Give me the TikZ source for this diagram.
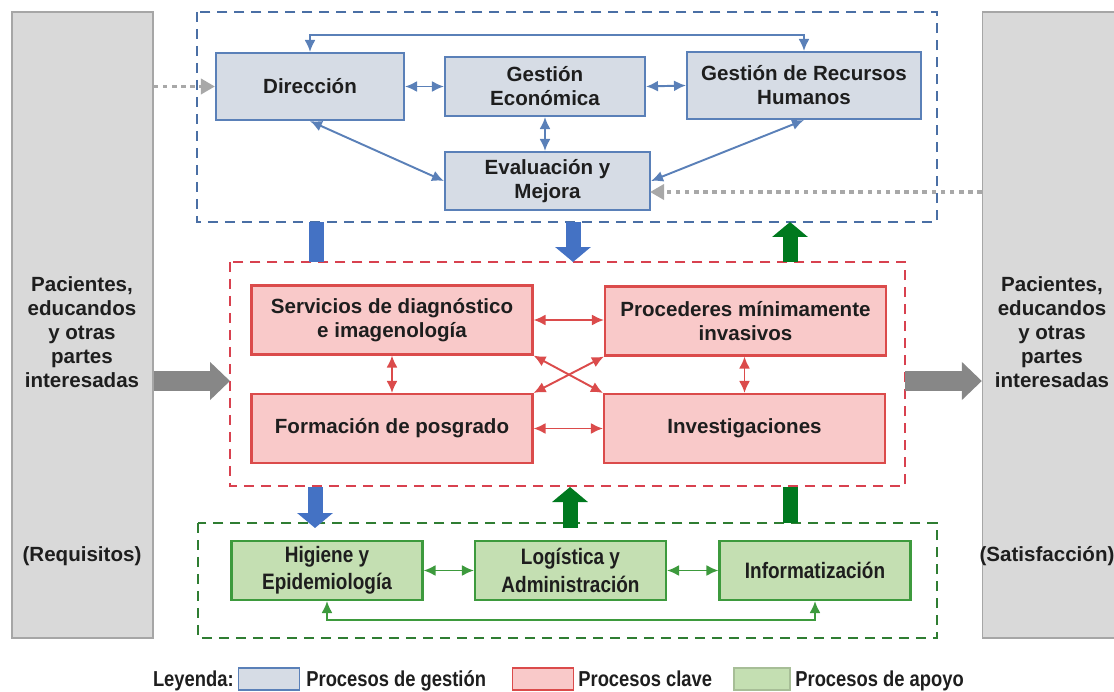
\documentclass[tikz,border=0pt]{standalone}
\usepackage{fontspec}
\setmainfont{Liberation Sans}
\newfontfamily\narrowfont{Liberation Sans}[FakeStretch=0.85]
\usetikzlibrary{arrows.meta}

\definecolor{gestfill}{HTML}{D6DCE5}
\definecolor{gestline}{HTML}{5A80B8}
\definecolor{gestdash}{HTML}{4A6FA5}
\definecolor{clavefill}{HTML}{F9C9C9}
\definecolor{claveline}{HTML}{DB4B4B}
\definecolor{clavedash}{HTML}{D8414F}
\definecolor{apoyofill}{HTML}{C4DFB2}
\definecolor{apoyoline}{HTML}{3D9A3D}
\definecolor{apoyodash}{HTML}{2F7D32}
\definecolor{verdeosc}{HTML}{00791F}
\definecolor{azulflecha}{HTML}{4472C4}
\definecolor{partefill}{HTML}{D9D9D9}
\definecolor{parteline}{HTML}{A6A6A6}
\definecolor{grisflecha}{HTML}{878787}
\definecolor{grispunto}{HTML}{A8A8A8}
\definecolor{texto}{HTML}{1E1E1E}

\tikzset{
  proc/.style={draw, line width=1.2pt, align=center, text=texto, inner sep=0pt,
    font=\fontsize{11.7}{13.6}\selectfont\bfseries},
  gestion/.style={proc, fill=gestfill, draw=gestline},
  clave/.style={proc, fill=clavefill, draw=claveline},
  apoyo/.style={proc, fill=apoyofill, draw=apoyoline,
    font=\narrowfont\fontsize{12.7}{15.6}\selectfont\bfseries},
  grupo/.style={line width=1.3pt, dash pattern=on 0.2cm off 0.14cm},
  parte/.style={draw=parteline, fill=partefill, line width=0.8pt, minimum width=2.82cm, minimum height=12.52cm},
  partetexto/.style={align=center, text=texto, font=\fontsize{11.7}{13.6}\selectfont\bfseries},
  bloque/.style={line width=0.3cm, -{Triangle[length=0.3cm 0, width=0.7cm 0]}},
  barra/.style={line width=0.3cm},
  bloquegris/.style={grisflecha, line width=0.4cm, -{Triangle[length=0.4cm 0, width=0.74cm 0]}},
  punteado/.style={grispunto, line width=2pt, dash pattern=on 2.6pt off 2.6pt,
    -{Triangle[length=0.28cm 0, width=0.3cm 0]}},
  conexion/.style={<->, >={Latex[length=2.4mm, width=2.2mm]}, line width=1.1pt},
  muestra/.style={draw, line width=0.8pt, minimum width=1.22cm, minimum height=0.44cm, inner sep=0pt},
  leyenda/.style={text=texto, inner sep=0pt, font=\narrowfont\fontsize{12.3}{15}\selectfont\bfseries}
}

\begin{document}
\begin{tikzpicture}[x=0.02cm, y=-0.02cm]

  \useasboundingbox (0,0) rectangle (1114,692);

  \node[parte] (izq) at (82.5,325) {};
  \node[parte] (der) at (1053,325) {};
  \node[partetexto] (izqtxt) at (82,332) {Pacientes,\\educandos\\y otras\\partes\\interesadas};
  \node[partetexto] (izqreq) at (82,556) {(Requisitos)};
  \node[partetexto] (dertxt) at (1052,332) {Pacientes,\\educandos\\y otras\\partes\\interesadas};
  \node[partetexto] (dersat) at (1047,556) {(Satisfacción)};

  \draw[grupo, gestdash] (197,12) rectangle (937,222);
  \draw[grupo, clavedash] (230,262) rectangle (905,486);
  \draw[grupo, apoyodash] (198,523) rectangle (937,638);

  \begin{scope}[every node/.style={gestion}]
    \node[minimum width=3.76cm, minimum height=1.34cm] (dir)  at (310,86.5)  {Dirección};
    \node[minimum width=4.0cm,  minimum height=1.18cm] (eco)  at (545,86.5)  {Gestión\\Económica};
    \node[minimum width=4.68cm, minimum height=1.34cm] (rrhh) at (804,85.5)  {Gestión de Recursos\\Humanos};
    \node[minimum width=4.1cm,  minimum height=1.16cm] (eval) at (547.5,181) {Evaluación y\\Mejora};
  \end{scope}

  \begin{scope}[every node/.style={clave, minimum width=5.62cm, minimum height=1.38cm}]
    \node (serv) at (392,320)   {Servicios de diagnóstico\\e imagenología};
    \node (proc) at (745.5,321) {Procederes mínimamente\\invasivos};
    \node (form) at (392,428.5) {Formación de posgrado};
    \node (inv)  at (744.5,428.5) {Investigaciones};
  \end{scope}

  \begin{scope}[every node/.style={apoyo, minimum width=3.82cm, minimum height=1.18cm}]
    \node (hig)  at (327,570.5) {Higiene y\\Epidemiología};
    \node (log)  at (570.5,570.5) {Logística y\\Administración};
    \node (info) at (815,570.5) {Informatización};
  \end{scope}

  \begin{scope}[every path/.style={conexion, gestline}]
    \draw (dir.north) |- (560,35) -| (rrhh.north);
    \draw (dir.east) -- (eco.west);
    \draw (eco.east) -- (rrhh.west);
    \draw (eco.south) -- (eval.north -| eco.south);
    \draw (dir.south) -- (eval.west);
    \draw (rrhh.south) -- (eval.east);
  \end{scope}

  \begin{scope}[every path/.style={conexion, claveline}]
    \draw (serv.east) -- (proc.west |- serv.east);
    \draw (form.east) -- (inv.west);
    \draw (serv.south) -- (form.north);
    \draw (proc.south -| inv.north) -- (inv.north);
    \draw (serv.south east) -- (inv.north west);
    \draw (form.north east) -- (proc.south west);
  \end{scope}

  \begin{scope}[every path/.style={conexion, apoyoline}]
    \draw (hig.east) -- (log.west);
    \draw (log.east) -- (info.west);
    \draw (hig.south) |- (570,620) -| (info.south);
  \end{scope}

  \coordinate (evalin) at (650,192);
  \draw[punteado] (izq.east |- dir.west) -- (dir.west);
  \draw[punteado] (der.west |- evalin) -- (evalin);

  \draw[bloquegris] (izq.east |- 0,381) -- (230,381);
  \draw[bloquegris] (905,381) -- (der.west |- 0,381);

  \draw[barra, azulflecha] (316,222) -- (316,262);
  \draw[bloque, azulflecha] (573,222) -- (573,262);
  \draw[bloque, verdeosc] (790,262) -- (790,222);
  \draw[bloque, azulflecha] (315,487) -- (315,528);
  \draw[bloque, verdeosc] (570,528) -- (570,487);
  \draw[barra, verdeosc] (790,487) -- (790,523);

  \node[leyenda, anchor=base east] (ley) at (234,686) {Leyenda:};
  \node[muestra, fill=gestfill, draw=gestline] (mgest) at (269,679) {};
  \node[leyenda, anchor=base west] (tgest) at (306,686) {Procesos de gestión};
  \node[muestra, fill=clavefill, draw=claveline] (mclave) at (543,679) {};
  \node[leyenda, anchor=base west] (tclave) at (578,686) {Procesos clave};
  \node[muestra, fill=apoyofill, draw=apoyofill!85!black, minimum width=1.12cm] (mapoyo) at (762,679) {};
  \node[leyenda, anchor=base west] (tapoyo) at (795,686) {Procesos de apoyo};

\end{tikzpicture}
\end{document}
